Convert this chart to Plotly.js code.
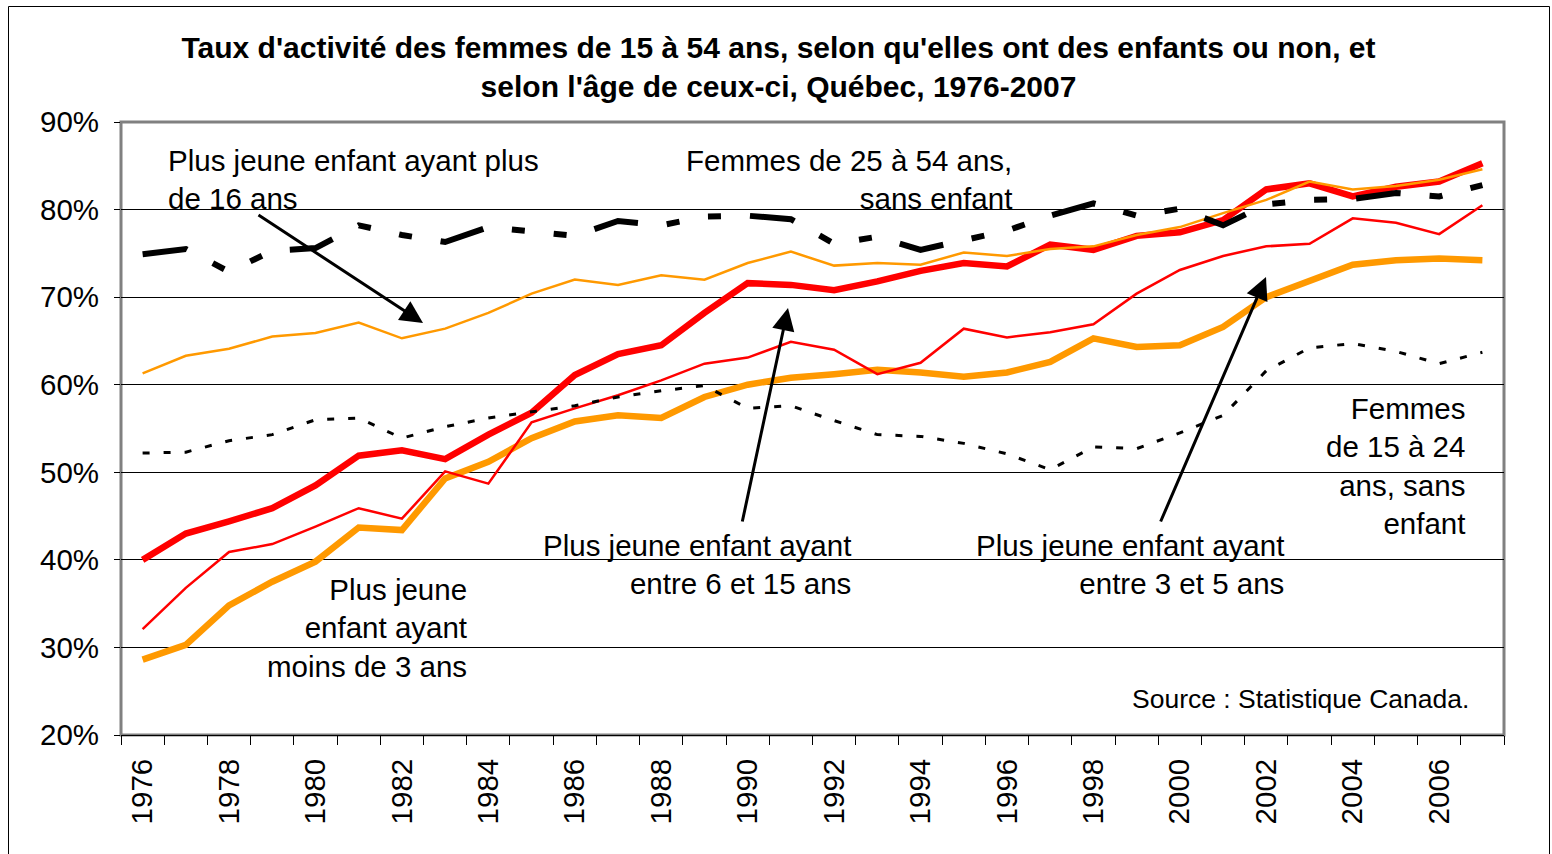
<!DOCTYPE html>
<html>
<head>
<meta charset="utf-8">
<script src="https://cdn.plot.ly/plotly-3.0.1.min.js"></script>
<style>html,body{margin:0;padding:0;background:#fff;}#chart{width:1552px;height:854px;}</style>
</head>
<body>
<div id="chart"></div>
<script>
// Categories (years)
const years = [1976,1977,1978,1979,1980,1981,1982,1983,1984,1985,1986,1987,1988,1989,1990,1991,
               1992,1993,1994,1995,1996,1997,1998,1999,2000,2001,2002,2003,2004,2005,2006,2007];
const tickYears = [1976,1978,1980,1982,1984,1986,1988,1990,1992,1994,1996,1998,2000,2002,2004,2006];
const tickYearLabels = ["1976","1978","1980","1982","1984","1986","1988","1990","1992","1994","1996","1998","2000","2002","2004","2006"];

// Series (taux d'activité, %)
const moinsDe3Ans = [28.6,30.3,34.8,37.5,39.8,43.7,43.4,49.3,51.2,53.9,55.8,56.5,56.2,58.6,60.0,60.8,
                     61.2,61.7,61.4,60.9,61.4,62.6,65.3,64.3,64.5,66.6,70.0,71.8,73.7,74.2,74.4,74.2];
const entre3et5Ans = [32.1,36.8,40.9,41.8,43.8,45.9,44.7,50.1,48.7,55.7,57.3,58.8,60.5,62.4,63.1,64.9,
                      64.0,61.2,62.5,66.4,65.4,66.0,66.9,70.4,73.1,74.7,75.8,76.1,79.0,78.5,77.2,80.5];
const entre6et15Ans = [40.0,43.0,44.4,45.9,48.5,51.9,52.5,51.5,54.3,56.8,61.1,63.5,64.5,68.2,71.6,71.4,
                       70.8,71.8,73.0,73.9,73.5,76.0,75.4,77.0,77.4,78.8,82.3,83.0,81.5,82.6,83.2,85.3];
const plusDe16Ans = [61.3,63.3,64.1,65.5,65.9,67.1,65.3,66.4,68.2,70.4,72.0,71.4,72.5,72.0,73.9,75.2,
                     73.6,73.9,73.7,75.1,74.7,75.5,75.8,77.1,78.0,79.6,81.1,83.2,82.3,82.7,83.4,84.6];
const femmes15a24SansEnfant = [52.2,52.3,53.6,54.3,56.0,56.2,53.9,55.2,56.2,56.9,57.6,58.6,59.3,59.9,57.3,57.6,
                               55.9,54.3,54.1,53.3,52.1,50.3,52.9,52.7,54.5,56.5,61.6,64.2,64.7,63.8,62.4,63.7];
const femmes25a54SansEnfant = [74.9,75.5,72.9,75.3,75.6,78.2,77.1,76.3,78.0,77.5,77.0,78.7,78.2,79.2,79.3,78.9,
                               76.1,76.9,75.4,76.5,77.6,79.3,80.7,79.3,80.1,78.2,80.6,81.1,81.2,81.9,81.5,82.8];

const FONT = "Liberation Sans, Arial, Helvetica, sans-serif";
const RED = "#FF0000", ORANGE = "#FF9900";

const traces = [
  {x: years, y: moinsDe3Ans, name: "Plus jeune enfant ayant moins de 3 ans", mode: "lines",
   line: {color: ORANGE, width: 6.5}},
  {x: years, y: entre3et5Ans, name: "Plus jeune enfant ayant entre 3 et 5 ans", mode: "lines",
   line: {color: RED, width: 2.5}},
  {x: years, y: entre6et15Ans, name: "Plus jeune enfant ayant entre 6 et 15 ans", mode: "lines",
   line: {color: RED, width: 6.5}},
  {x: years, y: plusDe16Ans, name: "Plus jeune enfant ayant plus de 16 ans", mode: "lines",
   line: {color: ORANGE, width: 2.5}},
  {x: years, y: femmes15a24SansEnfant, name: "Femmes de 15 à 24 ans, sans enfant", mode: "lines",
   line: {color: "#000", width: 3, dash: "7px,14px"}},
  {x: years, y: femmes25a54SansEnfant, name: "Femmes de 25 à 54 ans, sans enfant", mode: "lines",
   line: {color: "#000", width: 6, dash: "45px,29px,13px,29px,13px,29px"}}
];

// pixel helpers for annotation placement (plot area 121..1504 x 122..735)
const L = 121, R = 48, T = 122, B = 119, W = 1552, H = 854;
const PW = W - L - R, PH = H - T - B;
const px = v => (v - L) / PW;
const py = v => (H - B - v) / PH;

function label(text, xpix, ypix, xanchor, align, size) {
  return {xref: "paper", yref: "paper", x: px(xpix), y: py(ypix), xanchor: xanchor, yanchor: "middle",
          text: text, showarrow: false, align: align, borderpad: 0,
          font: {family: FONT, size: size || 29.5, color: "#000"}};
}
function arrow(tailX, tailY, tipX, tipY) {
  return {xref: "paper", yref: "paper", x: px(tipX), y: py(tipY), ax: tailX - tipX, ay: tailY - tipY,
          text: "", showarrow: true, arrowhead: 2, arrowsize: 1.5, arrowwidth: 3, arrowcolor: "#000",
          standoff: 0, startstandoff: 0};
}

const annotations = [
  label("Plus jeune enfant ayant plus<br>de 16 ans", 167, 179, "left", "left"),
  label("Femmes de 25 à 54 ans,<br>sans enfant", 1013, 179, "right", "right"),
  label("Plus jeune<br>enfant ayant<br>moins de 3 ans", 468, 628, "right", "right"),
  label("Plus jeune enfant ayant<br>entre 6 et 15 ans", 852, 564, "right", "right"),
  label("Plus jeune enfant ayant<br>entre 3 et 5 ans", 1285, 564, "right", "right"),
  label("Femmes<br>de 15 à 24<br>ans, sans<br>enfant", 1466, 466, "right", "right"),
  label("Source : Statistique Canada.", 1470, 699, "right", "right", 26.5),
  arrow(257, 214, 423, 323),
  arrow(742, 523, 788, 308),
  arrow(1160, 523, 1266, 277)
];

const shapes = [
  // outer chart frame
  {type: "rect", xref: "paper", yref: "paper", x0: px(8.5), x1: px(1549.5), y0: py(6.5), y1: py(870),
   line: {color: "#000", width: 1}, fillcolor: "rgba(0,0,0,0)", layer: "above"},
  // plot area border (grey)
  {type: "rect", xref: "paper", yref: "paper", x0: 0, x1: 1, y0: 0, y1: 1,
   line: {color: "#808080", width: 3}, fillcolor: "rgba(0,0,0,0)", layer: "below"}
];

const layout = {
  width: W, height: H,
  margin: {l: L, r: R, t: T, b: B, pad: 0},
  paper_bgcolor: "#fff", plot_bgcolor: "#fff",
  showlegend: false,
  font: {family: FONT, color: "#000"},
  title: {
    text: "Taux d'activité des femmes de 15 à 54 ans, selon qu'elles ont des enfants ou non, et<br>selon l'âge de ceux-ci, Québec, 1976-2007",
    font: {family: FONT, size: 30, color: "#000", weight: 700},
    x: 778.5 / W, xref: "container", xanchor: "center",
    y: 1 - 58 / H, yref: "container", yanchor: "middle"
  },
  xaxis: {
    type: "linear", range: [1975.5, 2007.5], fixedrange: true,
    tickmode: "array", tickvals: tickYears, ticktext: tickYearLabels, tickangle: -90,
    ticks: "", showgrid: false, zeroline: false,
    showline: true, linecolor: "#000", linewidth: 1,
    tickfont: {family: FONT, size: 29.5, color: "#000"},
    ticklabelstandoff: 11,
    minor: {tickmode: "linear", tick0: 1975.5, dtick: 1, ticks: "outside", ticklen: 9, tickwidth: 1, tickcolor: "#000", showgrid: false}
  },
  yaxis: {
    range: [20, 90], fixedrange: true, tickmode: "linear", tick0: 20, dtick: 10, ticksuffix: "%",
    ticks: "outside", ticklen: 6, tickwidth: 1, tickcolor: "#000",
    showgrid: true, gridcolor: "#000", gridwidth: 1, zeroline: false,
    showline: false,
    tickfont: {family: FONT, size: 29.5, color: "#000"},
    ticklabelstandoff: 9
  },
  shapes: shapes,
  annotations: annotations
};

Plotly.newPlot("chart", traces, layout, {displayModeBar: false, staticPlot: true});
</script>
</body>
</html>
